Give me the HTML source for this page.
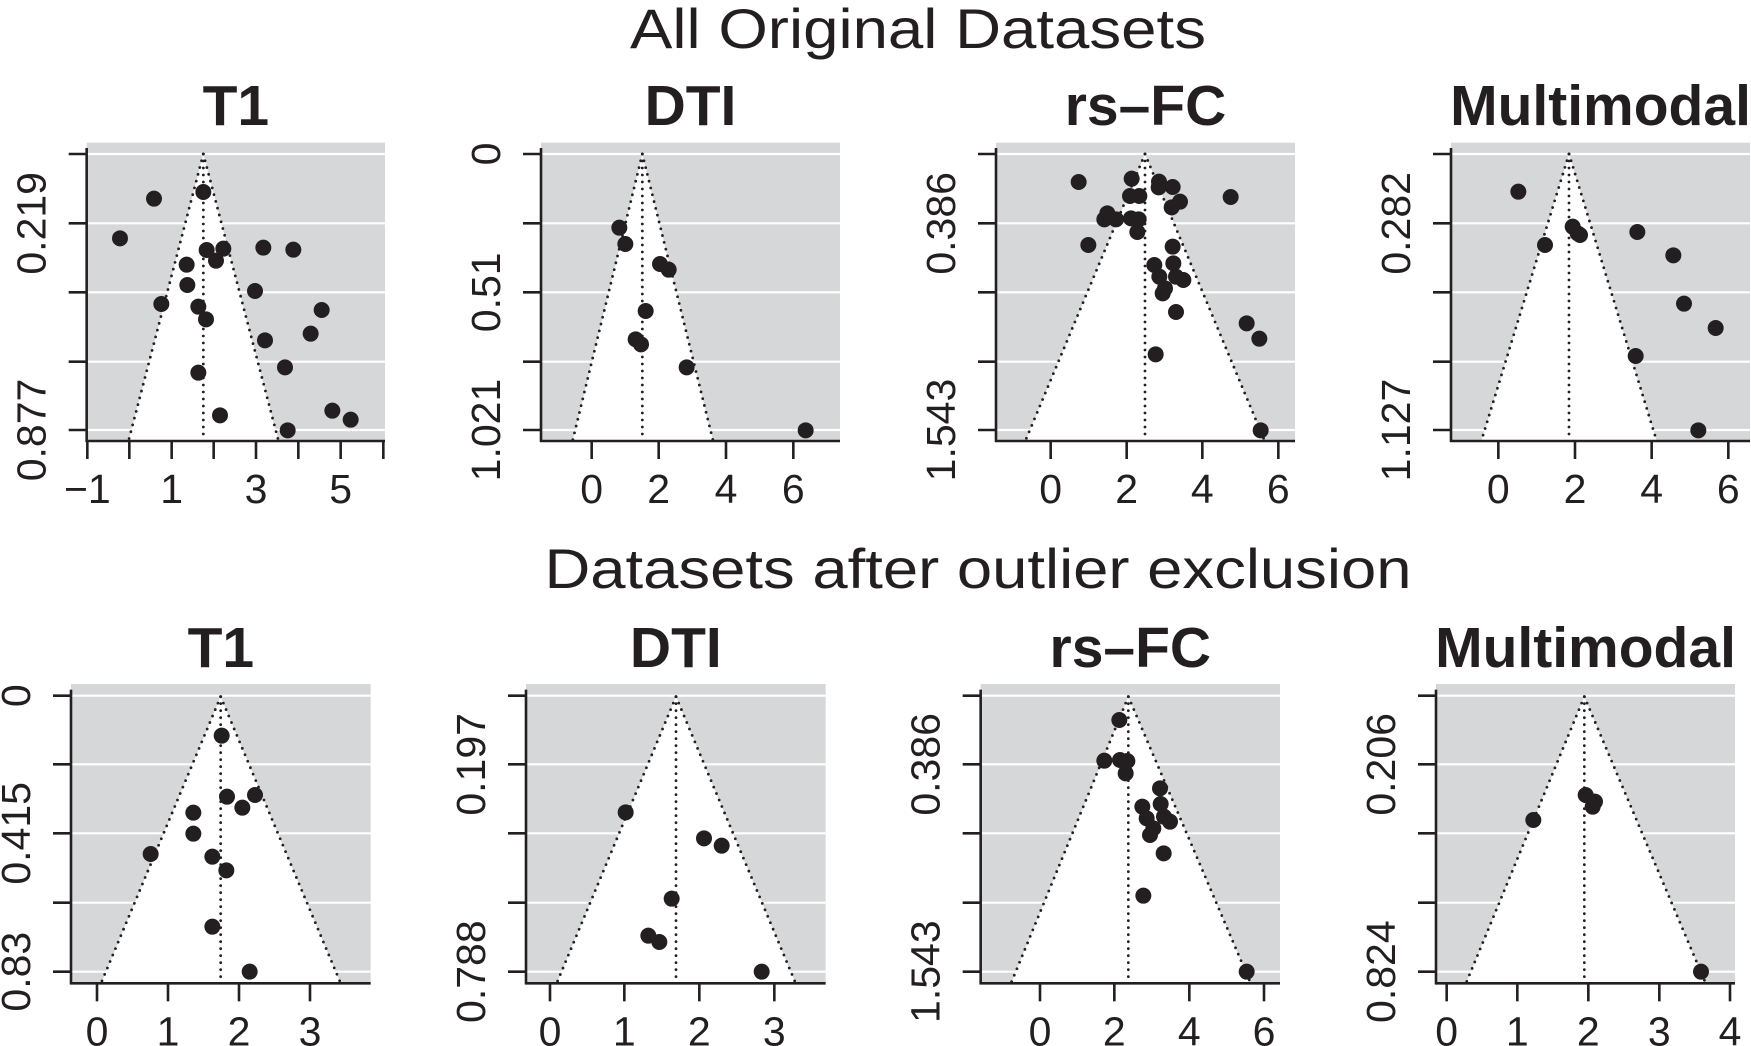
<!DOCTYPE html>
<html><head><meta charset="utf-8"><style>html,body{margin:0;padding:0;background:#fff}svg{display:block}</style></head>
<body>
<svg id="s" xmlns="http://www.w3.org/2000/svg" width="1751" height="1046" viewBox="0 0 1751 1046">
<text x="918" y="48" font-family="Liberation Sans, sans-serif" font-size="56" text-anchor="middle" textLength="576" lengthAdjust="spacingAndGlyphs" fill="#231f20">All Original Datasets</text>
<text x="978" y="588" font-family="Liberation Sans, sans-serif" font-size="56" text-anchor="middle" textLength="867" lengthAdjust="spacingAndGlyphs" fill="#231f20">Datasets after outlier exclusion</text>
</svg>
<script>
(function(){
const NS="http://www.w3.org/2000/svg",S=document.getElementById('s');
function el(t,a,txt){const e=document.createElementNS(NS,t);for(const k in a)e.setAttribute(k,a[k]);if(txt!==undefined)e.textContent=txt;S.appendChild(e);return e;}
const rTop={gT:128,ax:1023,grid:[162,370,577,785,990],oy:100,tb:125};
const rBot={gT:252,ax:1150,grid:[287,493,700,908,1115],oy:600,tb:667};
const P=[
{r:rTop,ox:0,L:260,R:1155,title:"T1",xt:[262,388,515,641,768,895,1022,1150],xl:{0:"\u22121",2:"1",4:"3",6:"5"},yl:{1:"0.219",4:"0.877"},apex:[610,162],bl:[388,1013],br:[833,1013],
pts:[[610,276],[462,296],[360,415],[620,450],[670,446],[648,482],[790,443],[880,449],[560,494],[562,555],[765,573],[484,612],[595,620],[618,658],[965,630],[932,701],[795,721],[855,802],[595,818],[660,946],[997,932],[1052,959],[863,991]]},
{r:rTop,ox:440,L:303,R:1200,title:"DTI",xt:[455,656,858,1060],xl:{0:"0",1:"2",2:"4",3:"6"},yl:{0:"0",2:"0.51",4:"1.021"},apex:[607,162],bl:[400,1013],br:[817,1013],
pts:[[538,383],[556,432],[660,492],[686,509],[617,633],[587,718],[603,733],[740,802],[1097,991]]},
{r:rTop,ox:900,L:288,R:1185,title:"rs\u2013FC",xt:[452,680,907,1135],xl:{0:"0",1:"2",2:"4",3:"6"},yl:{1:"0.386",4:"1.543"},apex:[735,162],bl:[378,1018],br:[1092,1018],
pts:[[536,246],[695,236],[777,245],[776,262],[818,261],[992,291],[690,288],[718,288],[840,305],[815,322],[622,340],[613,358],[648,358],[693,355],[716,358],[712,396],[565,435],[818,440],[820,490],[763,495],[778,530],[828,530],[850,540],[795,565],[788,580],[828,636],[1040,670],[1078,716],[767,763],[1082,991]]},
{r:rTop,ox:1350,L:303,R:1200,title:"Multimodal",xt:[445,675,905,1135],xl:{0:"0",1:"2",2:"4",3:"6"},yl:{1:"0.282",4:"1.127"},apex:[657,162],bl:[397,1013],br:[917,1013],
pts:[[505,275],[668,380],[683,400],[690,405],[862,396],[585,435],[970,466],[1002,611],[1097,684],[857,768],[1045,991]]},
{r:rBot,ox:0,L:213,R:1112,title:"T1",xt:[291,504,717,930],xl:{0:"0",1:"1",2:"2",3:"3"},yl:{0:"0",2:"0.415",4:"0.83"},apex:[662,290],bl:[305,1145],br:[1020,1145],
pts:[[665,407],[681,590],[765,585],[727,623],[580,638],[580,701],[452,762],[637,770],[679,811],[637,980],[749,1115]]},
{r:rBot,ox:440,L:258,R:1157,title:"DTI",xt:[330,553,778,1003],xl:{0:"0",1:"1",2:"2",3:"3"},yl:{1:"0.197",4:"0.788"},apex:[708,290],bl:[352,1145],br:[1065,1145],
pts:[[557,637],[792,715],[845,737],[695,896],[625,1007],[658,1026],[965,1115]]},
{r:rBot,ox:890,L:272,R:1170,title:"rs\u2013FC",xt:[450,673,898,1122],xl:{0:"0",1:"2",2:"4",3:"6"},yl:{1:"0.386",4:"1.543"},apex:[715,290],bl:[365,1145],br:[1080,1145],
pts:[[688,360],[643,482],[690,480],[712,483],[707,520],[810,565],[757,620],[812,612],[770,655],[822,650],[840,665],[790,685],[780,705],[821,760],[760,887],[1070,1115]]},
{r:rBot,ox:1300,L:408,R:1305,title:"Multimodal",xt:[440,652,865,1078,1290],xl:{0:"0",1:"1",2:"2",3:"3",4:"4"},yl:{1:"0.206",4:"0.824"},apex:[853,290],bl:[500,1145],br:[1215,1145],
pts:[[857,585],[885,605],[878,620],[700,660],[1203,1115]]}
];
P.forEach((p,i)=>{
 const r=p.r,X=v=>p.ox+v/3,Y=v=>r.oy+v/3;
 const L=X(p.L),R=X(p.R),T=Y(r.gT),B=Y(r.ax);
 const cid='c'+i;
 const cp=el('clipPath',{id:cid});
 const cr=document.createElementNS(NS,'rect');cr.setAttribute('x',L);cr.setAttribute('y',T);cr.setAttribute('width',R-L);cr.setAttribute('height',B-T);cp.appendChild(cr);
 el('rect',{x:L,y:T,width:R-L,height:B-T,fill:'#d6d7d9'});
 r.grid.forEach(g=>el('line',{x1:L,x2:R,y1:Y(g),y2:Y(g),stroke:'#fff','stroke-width':2.2}));
 const ax=X(p.apex[0]),ay=Y(p.apex[1]);
 const ext=(b)=>{const bx=X(b[0]),by=Y(b[1]);const t=(B-ay)/(by-ay);return [ax+(bx-ax)*t,B];};
 const l=ext(p.bl),rr=ext(p.br);
 el('polygon',{points:`${ax},${ay} ${l[0]},${l[1]} ${rr[0]},${rr[1]}`,fill:'#fff','clip-path':`url(#${cid})`});
 const dl={stroke:'#231f20','stroke-width':2.8,'stroke-linecap':'round','stroke-dasharray':'0 7',fill:'none','clip-path':`url(#${cid})`};
 el('line',Object.assign({x1:ax,y1:ay,x2:l[0],y2:l[1]},dl));
 el('line',Object.assign({x1:ax,y1:ay,x2:rr[0],y2:rr[1]},dl));
 el('line',Object.assign({x1:ax,y1:ay,x2:ax,y2:B},dl));
 p.pts.forEach(q=>el('circle',{cx:X(q[0]),cy:Y(q[1]),r:8,fill:'#231f20'}));
 el('line',{x1:L,x2:L,y1:Y(r.grid[0])-6,y2:B+1,stroke:'#231f20','stroke-width':2.6});
 el('line',{x1:L-1,x2:R,y1:B,y2:B,stroke:'#231f20','stroke-width':2.6});
 r.grid.forEach((g,k)=>{el('line',{x1:L-18,x2:L,y1:Y(g),y2:Y(g),stroke:'#231f20','stroke-width':2.6});
  if(p.yl[k]!==undefined){const yy=Y(g),xx=L-41;el('text',{x:xx,y:yy,transform:`rotate(-90 ${xx} ${yy})`,'text-anchor':'middle','font-family':'Liberation Sans, sans-serif','font-size':41,fill:'#231f20'},p.yl[k]);}});
 p.xt.forEach((t,k)=>{el('line',{x1:X(t),x2:X(t),y1:B,y2:B+18,stroke:'#231f20','stroke-width':2.6});
  if(p.xl[k]!==undefined)el('text',{x:X(t),y:B+62,'text-anchor':'middle','font-family':'Liberation Sans, sans-serif','font-size':41,fill:'#231f20'},p.xl[k]);});
 el('text',{x:(L+R)/2,y:r.tb,'text-anchor':'middle','font-family':'Liberation Sans, sans-serif','font-weight':'bold','font-size':57,fill:'#231f20'},p.title);
});
})();
</script>
</body></html>
